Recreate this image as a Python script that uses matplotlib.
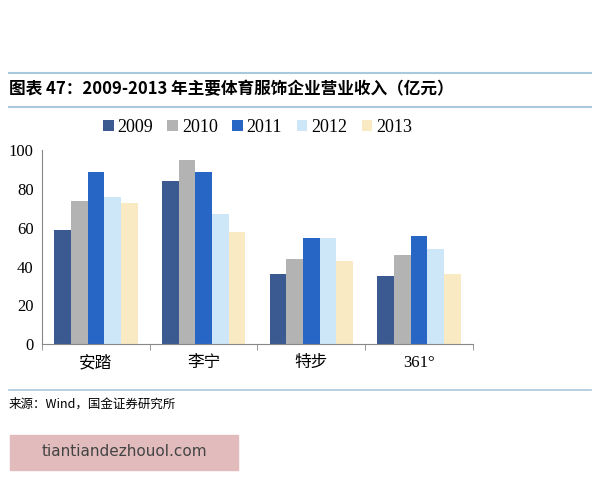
import matplotlib
matplotlib.use('Agg')
import matplotlib.pyplot as plt
import numpy as np
from matplotlib.patches import Rectangle

companies = ['安踏', '李宁', '特步', '361°']
years = ['2009', '2010', '2011', '2012', '2013']
v2009 = [59, 84, 36, 35]
v2010 = [74, 95, 44, 46]
v2011 = [89, 89, 55, 56]
v2012 = [76, 67, 55, 49]
v2013 = [73, 58, 43, 36]
series = [v2009, v2010, v2011, v2012, v2013]
colors = ['#3b5a92', '#b3b3b3', '#2866c6', '#cde7f9', '#faeac4']

fam = ['Liberation Serif', 'Noto Sans CJK SC']
fig = plt.figure(figsize=(6, 4.8), dpi=100)
ax = fig.add_axes([0.07, 0.283, 0.718, 0.404])
x = np.arange(len(companies))
w = 0.155
for i, (s, c) in enumerate(zip(series, colors)):
    ax.bar(x + (i - 2) * w, s, w, color=c, label=years[i])
ax.set_ylim(0, 100)
ax.set_xlim(-0.5, 3.5)
ax.set_yticks(range(0, 101, 20))
ax.set_xticks(x)
ax.set_xticklabels(companies, family=fam, fontsize=12)
for t in ax.get_yticklabels():
    t.set_family(fam); t.set_fontsize(12)
for s in ['top', 'right']:
    ax.spines[s].set_visible(False)
for s in ['left', 'bottom']:
    ax.spines[s].set_color('#888888')
ax.set_xticks([-0.5, 0.5, 1.5, 2.5, 3.5], minor=True)
ax.tick_params(axis='x', which='major', length=0, pad=8)
ax.tick_params(axis='x', which='minor', length=4, color='#888888')
ax.tick_params(axis='y', length=0, pad=6)
leg = ax.legend(loc='lower center', bbox_to_anchor=(0.5, 0.99), ncol=5, frameon=False,
                prop={'family': fam, 'size': 13}, handlelength=0.6, handleheight=0.6,
                handletextpad=0.2, columnspacing=0.8)

fig.add_artist(plt.Line2D([0.015, 0.985], [1 - 73/480] * 2, color='#a9c8dc', lw=1.5))
fig.add_artist(plt.Line2D([0.015, 0.985], [1 - 107/480] * 2, color='#a9c8dc', lw=1.5))
fig.text(0.015, 1 - 89/480, '图表 47：2009-2013 年主要体育服饰企业营业收入（亿元）',
         family=['Noto Sans CJK SC', 'DejaVu Sans'], fontsize=12, fontweight='bold',
         style='italic', va='center')
fig.add_artist(plt.Line2D([0.015, 0.985], [1 - 390/480] * 2, color='#a9c8dc', lw=1.2))
fig.text(0.015, 1 - 404/480, '来源：Wind，国金证券研究所', family=['Noto Sans CJK SC', 'DejaVu Sans'],
         fontsize=9, va='center')
fig.add_artist(Rectangle((10/600, 1 - 470/480), 228/600, 35/480, color='#e2bcbc',
                         transform=fig.transFigure))
fig.text(124/600, 1 - 452/480, 'tiantiandezhouol.com', family=['DejaVu Sans'], fontsize=11,
         color='#444444', ha='center', va='center')
fig.savefig('out.png', dpi=100)
